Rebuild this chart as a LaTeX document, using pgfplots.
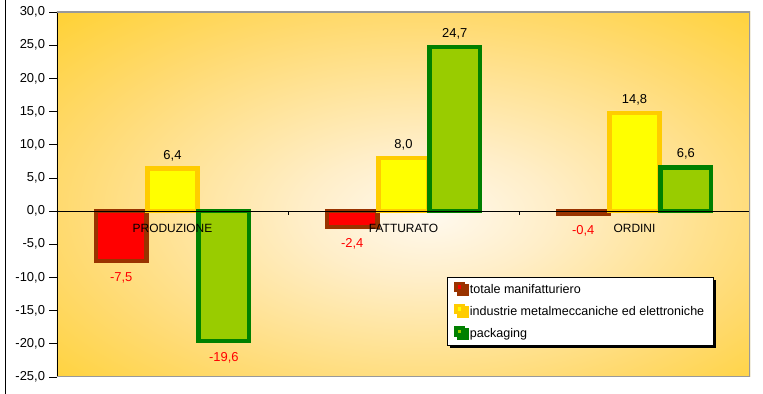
\documentclass[border=0pt]{standalone}
\usepackage{fontspec}
\setmainfont{Liberation Sans}
\usepackage{pgfplots}
\pgfplotsset{compat=1.18}
\usetikzlibrary{shadows}
\definecolor{bgout}{RGB}{255,204,16}
\definecolor{bgmid}{RGB}{255,218,112}
\definecolor{bglight}{RGB}{255,238,200}
\definecolor{bgin}{RGB}{255,249,238}
\definecolor{totfill}{RGB}{255,0,0}
\definecolor{totbord}{RGB}{153,51,0}
\definecolor{indfill}{RGB}{255,255,0}
\definecolor{indbord}{RGB}{255,204,0}
\definecolor{pakfill}{RGB}{153,204,0}
\definecolor{pakbord}{RGB}{0,128,0}
\pgfdeclareradialshading{bgshade}{\pgfpoint{2bp}{-3bp}}{%
  color(0bp)=(bgin); color(9bp)=(bglight); color(26bp)=(bgmid); color(44bp)=(bgout); color(75bp)=(bgout)}
\pgfplotstableread{
x  tot   ind   pak
0  -7.5  6.4  -19.6
1  -2.4  8.0   24.7
2  -0.4  14.8  6.6
}\datatable
\begin{document}
\begin{tikzpicture}
\useasboundingbox (-57bp,-17bp) rectangle (706bp,377bp);
\begin{axis}[
  scale only axis,
  width=693bp, height=365bp,
  xmin=-0.5, xmax=2.5,
  ymin=-25, ymax=30,
  ytick={-25,-20,...,30},
  xtick={0,1,2},
  xticklabels={PRODUZIONE,FATTURATO,ORDINI},
  xticklabel style={font=\fontsize{12}{14}\selectfont, anchor=north, yshift=164bp},
  x tick style={draw=none},
  yticklabel style={font=\fontsize{13}{15}\selectfont, xshift=-1bp},
  /pgf/number format/assume math mode=true,
  yticklabel={\pgfmathprintnumber[fixed,fixed zerofill,precision=1,use comma]{\tick}},
  major tick length=7.5bp,
  tick align=outside,
  ytick pos=left,
  y tick style={black, line width=0.8bp},
  axis line style={draw=none},
  axis background/.style={shading=bgshade},
  axis on top,
  ybar=0.8bp,
  bar width=50.5bp,
  every axis plot/.append style={line width=4.6bp},
  nodes near coords={\pgfmathprintnumber[fixed,fixed zerofill,precision=1,use comma]{\pgfplotspointmeta}},
  every node near coord/.append style={font=\fontsize{13}{15}\selectfont, inner sep=5.5bp},
  coordinate style/.condition={y<0}{text=red, yshift=-3.5bp},
  legend style={
    at={(0.5628,0.2748)}, anchor=north west,
    draw=black, line width=0.8bp, fill=white,
    drop shadow={shadow xshift=3bp, shadow yshift=-3bp, fill=black, opacity=1},
    font=\fontsize{12.6}{14}\selectfont,
    inner xsep=7bp, inner ysep=4.5bp,
    row sep=7.3bp,
    cells={anchor=west},
    /tikz/every odd column/.append style={column sep=2.8bp},
    /tikz/every even column/.append style={column sep=0bp},
  },
  legend image code/.code={%
    \draw[#1, line width=3.6bp] (1.1bp,-1.2bp) rectangle (8.1bp,5.8bp);},
  legend cell align=left,
]
\addplot[fill=totfill, draw=totbord] table[x=x, y=tot] {\datatable};
\addplot[fill=indfill, draw=indbord] table[x=x, y=ind] {\datatable};
\addplot[fill=pakfill, draw=pakbord] table[x=x, y=pak] {\datatable};
\legend{totale manifatturiero, industrie metalmeccaniche ed elettroniche, packaging}
\draw[black, line width=0.9bp] (axis cs:-0.5,0) -- (axis cs:2.5,0);
\draw[black, line width=0.9bp] (axis cs:0.5,0) -- ([yshift=-4bp]axis cs:0.5,0);
\draw[black, line width=0.9bp] (axis cs:1.5,0) -- ([yshift=-4bp]axis cs:1.5,0);
\draw[black, line width=0.9bp] (rel axis cs:0,0) -- (rel axis cs:0,1);
\draw[gray!80, line width=1.2bp] (rel axis cs:0,1) -- (rel axis cs:1,1) -- (rel axis cs:1,0) -- (rel axis cs:0,0);
\end{axis}
\draw[black, line width=1bp] (-51bp,-17bp) -- (-51bp,377bp);
\end{tikzpicture}
\end{document}
